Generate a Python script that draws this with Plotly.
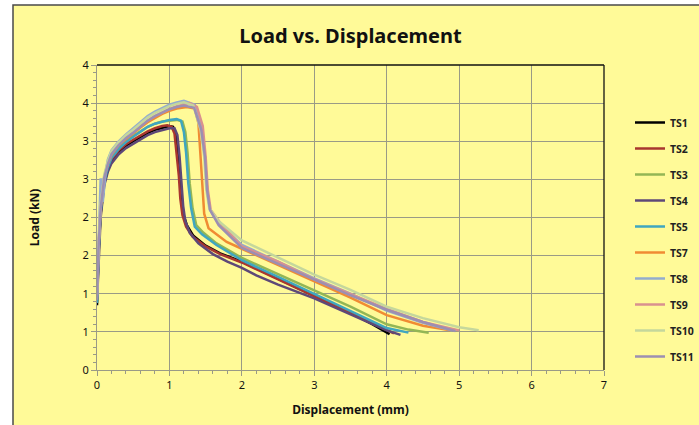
import plotly.graph_objects as go

# ---------------- data ----------------
series_names = ["TS1", "TS2", "TS3", "TS4", "TS5", "TS7", "TS8", "TS9", "TS10", "TS11"]

ts1_x = [0, 0.02, 0.05, 0.1, 0.15, 0.2, 0.3, 0.4, 0.5, 0.6, 0.7, 0.8, 0.9, 1.0, 1.05, 1.08, 1.11, 1.14, 1.16, 1.19, 1.24, 1.33, 1.5, 1.7, 2.0, 2.5, 3.0, 3.5, 3.8, 4.04]
ts1_y = [0.85, 1.5, 2.05, 2.45, 2.63, 2.74, 2.86, 2.94, 3.0, 3.06, 3.11, 3.15, 3.18, 3.2, 3.19, 3.12, 2.9, 2.6, 2.3, 2.05, 1.9, 1.76, 1.63, 1.53, 1.42, 1.2, 0.98, 0.75, 0.6, 0.47]

ts2_x = [0, 0.02, 0.05, 0.1, 0.15, 0.2, 0.3, 0.4, 0.5, 0.6, 0.7, 0.8, 0.9, 0.97, 1.03, 1.07, 1.1, 1.13, 1.15, 1.18, 1.23, 1.32, 1.5, 1.7, 2.0, 2.5, 3.0, 3.5, 3.8, 4.1]
ts2_y = [0.95, 1.55, 2.08, 2.47, 2.65, 2.76, 2.88, 2.96, 3.02, 3.08, 3.13, 3.17, 3.2, 3.21, 3.19, 3.1, 2.85, 2.55, 2.25, 2.03, 1.88, 1.75, 1.62, 1.52, 1.41, 1.19, 0.97, 0.75, 0.61, 0.48]

ts3_x = [0, 0.02, 0.05, 0.1, 0.15, 0.2, 0.3, 0.4, 0.5, 0.6, 0.7, 0.8, 0.9, 1.0, 1.1, 1.18, 1.22, 1.25, 1.28, 1.32, 1.37, 1.47, 1.65, 2.0, 2.5, 3.0, 3.5, 4.0, 4.3, 4.58]
ts3_y = [0.9, 1.55, 2.1, 2.5, 2.68, 2.8, 2.92, 3.0, 3.07, 3.13, 3.19, 3.23, 3.26, 3.27, 3.28, 3.26, 3.12, 2.85, 2.45, 2.12, 1.9, 1.8, 1.66, 1.47, 1.26, 1.05, 0.83, 0.6, 0.53, 0.49]

ts4_x = [0, 0.02, 0.05, 0.1, 0.15, 0.2, 0.3, 0.4, 0.5, 0.6, 0.7, 0.8, 0.9, 1.0, 1.07, 1.11, 1.14, 1.17, 1.19, 1.22, 1.28, 1.4, 1.6, 1.8, 2.0, 2.2, 2.5, 3.0, 3.5, 4.0, 4.19]
ts4_y = [0.9, 1.45, 2.0, 2.42, 2.6, 2.71, 2.83, 2.91, 2.97, 3.03, 3.08, 3.12, 3.15, 3.17, 3.17, 3.08, 2.8, 2.45, 2.15, 1.95, 1.8, 1.66, 1.52, 1.42, 1.34, 1.24, 1.12, 0.94, 0.73, 0.52, 0.46]

ts5_x = [0, 0.02, 0.05, 0.1, 0.15, 0.2, 0.3, 0.4, 0.5, 0.6, 0.7, 0.8, 0.9, 1.0, 1.1, 1.16, 1.2, 1.23, 1.26, 1.3, 1.35, 1.45, 1.65, 2.0, 2.5, 3.0, 3.5, 4.0, 4.3]
ts5_y = [0.88, 1.52, 2.08, 2.48, 2.66, 2.78, 2.9, 2.99, 3.06, 3.13, 3.19, 3.23, 3.26, 3.28, 3.29, 3.27, 3.12, 2.85, 2.45, 2.12, 1.88, 1.78, 1.64, 1.44, 1.22, 1.0, 0.78, 0.55, 0.49]

ts7_x = [0, 0.02, 0.05, 0.1, 0.15, 0.2, 0.3, 0.4, 0.5, 0.6, 0.7, 0.8, 0.9, 1.0, 1.1, 1.24, 1.35, 1.4, 1.43, 1.46, 1.48, 1.54, 1.79, 2.0, 2.5, 3.0, 3.5, 4.0, 4.5, 4.88]
ts7_y = [1.0, 1.6, 2.12, 2.52, 2.7, 2.82, 2.95, 3.03, 3.1, 3.18, 3.25, 3.31, 3.36, 3.4, 3.43, 3.45, 3.43, 3.24, 2.8, 2.36, 2.05, 1.86, 1.68, 1.59, 1.38, 1.16, 0.95, 0.72, 0.58, 0.52]

ts8_x = [0, 0.03, 0.05, 0.075, 0.08, 0.12, 0.15, 0.2, 0.3, 0.4, 0.5, 0.6, 0.7, 0.8, 0.9, 1.0, 1.1, 1.2, 1.35, 1.45, 1.49, 1.52, 1.56, 1.68, 2.0, 2.5, 3.0, 3.5, 4.0, 4.5, 4.9]
ts8_y = [0.95, 1.9, 2.5, 2.5, 2.2, 2.6, 2.76, 2.88, 3.0, 3.09, 3.17, 3.25, 3.33, 3.39, 3.44, 3.48, 3.51, 3.53, 3.48, 3.15, 2.8, 2.36, 2.1, 1.92, 1.64, 1.42, 1.2, 1.0, 0.78, 0.62, 0.52]

ts9_x = [0, 0.02, 0.05, 0.1, 0.15, 0.2, 0.3, 0.4, 0.5, 0.6, 0.7, 0.8, 0.9, 1.0, 1.1, 1.28, 1.38, 1.46, 1.5, 1.53, 1.57, 1.7, 2.0, 2.5, 3.0, 3.5, 4.0, 4.5, 5.0]
ts9_y = [1.05, 1.62, 2.15, 2.54, 2.72, 2.84, 2.96, 3.05, 3.12, 3.2, 3.27, 3.33, 3.38, 3.42, 3.46, 3.5, 3.45, 3.2, 2.8, 2.36, 2.1, 1.93, 1.62, 1.42, 1.19, 0.99, 0.8, 0.63, 0.52]

ts10_x = [0, 0.02, 0.05, 0.1, 0.15, 0.2, 0.3, 0.4, 0.5, 0.6, 0.7, 0.8, 0.9, 1.0, 1.1, 1.2, 1.33, 1.43, 1.48, 1.51, 1.55, 1.67, 2.0, 2.5, 3.0, 3.5, 4.0, 4.5, 5.0, 5.27]
ts10_y = [0.98, 1.63, 2.17, 2.56, 2.74, 2.87, 2.99, 3.08, 3.15, 3.23, 3.31, 3.37, 3.42, 3.46, 3.49, 3.51, 3.47, 3.15, 2.8, 2.36, 2.12, 1.96, 1.7, 1.47, 1.25, 1.05, 0.83, 0.68, 0.56, 0.52]

ts11_x = [0, 0.02, 0.05, 0.1, 0.15, 0.2, 0.3, 0.4, 0.5, 0.6, 0.7, 0.8, 0.9, 1.0, 1.1, 1.2, 1.34, 1.44, 1.49, 1.52, 1.56, 1.68, 2.0, 2.5, 3.0, 3.5, 4.0, 4.5, 4.95]
ts11_y = [0.92, 1.58, 2.12, 2.52, 2.7, 2.83, 2.95, 3.04, 3.11, 3.19, 3.27, 3.33, 3.38, 3.42, 3.45, 3.47, 3.44, 3.15, 2.8, 2.36, 2.1, 1.9, 1.6, 1.39, 1.18, 0.98, 0.79, 0.63, 0.51]

series_x = [ts1_x, ts2_x, ts3_x, ts4_x, ts5_x, ts7_x, ts8_x, ts9_x, ts10_x, ts11_x]
series_y = [ts1_y, ts2_y, ts3_y, ts4_y, ts5_y, ts7_y, ts8_y, ts9_y, ts10_y, ts11_y]

y_tick_values = [0, 0.5, 1, 1.5, 2, 2.5, 3, 3.5, 4]
y_tick_labels = ["0", "1", "1", "2", "2", "3", "3", "4", "4"]
x_tick_values = [0, 1, 2, 3, 4, 5, 6, 7]

# ---------------- styles ----------------
colors = ["#000000", "#A8362F", "#93B655", "#5E4878", "#3FA6C0",
          "#F08B33", "#93ACCE", "#D9918F", "#C5D79C", "#9C8FB2"]
FONT = "Noto Sans"
YELLOW = "#FFFA98"
GRID = "#9A9A86"

fig = go.Figure()
for name, xs, ys, c in zip(series_names, series_x, series_y, colors):
    fig.add_trace(go.Scatter(x=xs, y=ys, name=name, mode="lines",
                             legendgroup=name,
                             line=dict(color=c, width=2.5)))

W, H = 699, 425
L, R, T, B = 97, 95, 65, 55
pw, ph = W - L - R, H - T - B

def px_to_paper_x(px):
    return (px - L) / pw

def py_to_paper_y(py):
    return (H - B - py) / ph

fig.update_layout(
    width=W, height=H,
    margin=dict(l=L, r=R, t=T, b=B, autoexpand=False),
    paper_bgcolor="white",
    plot_bgcolor=YELLOW,
    font=dict(family=FONT, color="#111111", size=11),
    title=dict(text="Load vs. Displacement", x=0.5, xanchor="center",
               xref="paper", y=1 - 36 / H, yanchor="middle",
               font=dict(family=FONT, size=20, weight="bold", color="#111111")),
    showlegend=True,
    legend=dict(x=px_to_paper_x(630), y=py_to_paper_y(108), xanchor="left", yanchor="top",
                bgcolor="rgba(0,0,0,0)", borderwidth=0,
                traceorder="grouped", tracegroupgap=7, itemwidth=30,
                font=dict(family=FONT, size=10.5, weight="bold", color="#222222")),
    xaxis=dict(range=[0, 7], tickvals=x_tick_values, showgrid=True, gridcolor=GRID, gridwidth=1,
               zeroline=False, showline=True, linecolor=GRID, linewidth=1,
               ticks="outside", ticklen=5, tickcolor=GRID,
               minor=dict(dtick=0.2, ticks="outside", ticklen=3, tickcolor=GRID, showgrid=False),
               tickfont=dict(size=11, color="#111111"),
               title=dict(text="Displacement (mm)", standoff=14,
                          font=dict(size=12, weight="bold", color="#111111"))),
    yaxis=dict(range=[0, 4], tickvals=y_tick_values, ticktext=y_tick_labels,
               showgrid=True, gridcolor=GRID, gridwidth=1,
               zeroline=False, showline=True, linecolor=GRID, linewidth=1,
               ticks="outside", ticklen=5, tickcolor=GRID,
               minor=dict(dtick=0.1, ticks="outside", ticklen=3, tickcolor=GRID, showgrid=False),
               tickfont=dict(size=11, color="#111111"),
               title=dict(text="Load (kN)", standoff=40,
                          font=dict(size=12, weight="bold", color="#111111"))),
    shapes=[
        dict(type="rect", xref="paper", yref="paper",
             x0=px_to_paper_x(13), x1=px_to_paper_x(W + 5),
             y0=py_to_paper_y(H + 5), y1=py_to_paper_y(5),
             fillcolor=YELLOW, line=dict(color="#4A4A4A", width=1.5), layer="below"),
        dict(type="line", xref="paper", yref="paper", x0=0, x1=1, y0=1, y1=1,
             line=dict(color="#111111", width=1.3)),
        dict(type="line", xref="paper", yref="paper", x0=1, x1=1, y0=0, y1=1,
             line=dict(color="#111111", width=1.3)),
    ],
)

fig.write_html("out.html")
